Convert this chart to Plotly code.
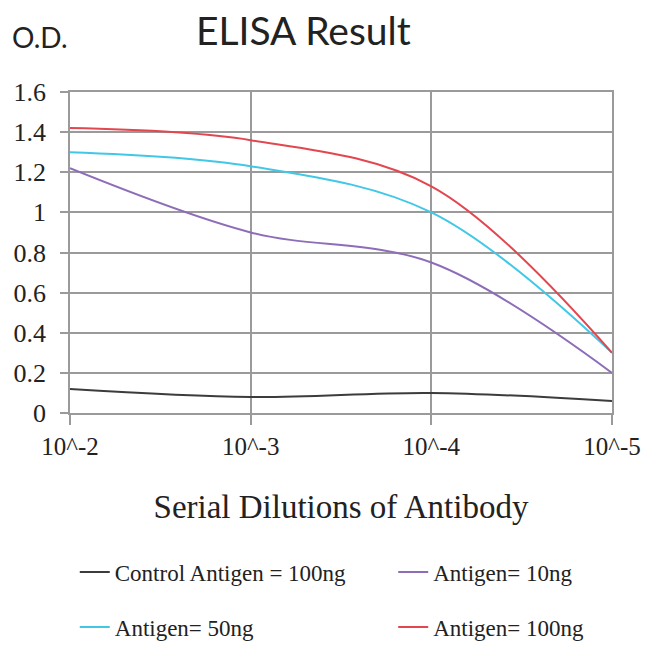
import plotly.graph_objects as go

# Diluições seriais do anticorpo
dilutions = ["10^-2", "10^-3", "10^-4", "10^-5"]

control_100ng = [0.12, 0.08, 0.10, 0.06]
antigen_10ng = [1.22, 0.90, 0.75, 0.20]
antigen_50ng = [1.30, 1.23, 1.00, 0.30]
antigen_100ng = [1.42, 1.36, 1.13, 0.30]

# nome, valores, cor, legenda (uma legenda por célula da grade 2x2)
series = [
    ("Control Antigen = 100ng", control_100ng, "#3c3c3c", "legend"),
    ("Antigen= 10ng", antigen_10ng, "#8e6db8", "legend2"),
    ("Antigen= 50ng", antigen_50ng, "#40c8e6", "legend3"),
    ("Antigen= 100ng", antigen_100ng, "#e2474f", "legend4"),
]

xpos = list(range(len(dilutions)))

fig = go.Figure()
for name, vals, color, leg in series:
    fig.add_trace(go.Scatter(
        x=xpos, y=vals, name=name, mode="lines", legend=leg,
        line=dict(color=color, width=2, shape="spline", smoothing=1.0),
    ))

serif = "Liberation Serif"
grid = "#9a9a9a"

# a página tem 8px de margem no body: figura de 642px
W = H = 642

legend_common = dict(
    orientation="v",
    xref="container", yref="container",
    xanchor="left", yanchor="middle",
    font=dict(family=serif, size=23, color="#222"),
    bgcolor="rgba(0,0,0,0)",
)
col1, col2 = 0.104, 0.60
row1, row2 = 1 - 564 / H, 1 - 619 / H

fig.update_layout(
    width=W, height=H,
    margin=dict(l=62, r=38, t=84, b=237, autoexpand=False),
    paper_bgcolor="white",
    plot_bgcolor="white",
    showlegend=True,
    legend=dict(legend_common, x=col1, y=row1),
    legend2=dict(legend_common, x=col2, y=row1),
    legend3=dict(legend_common, x=col1, y=row2),
    legend4=dict(legend_common, x=col2, y=row2),
    xaxis=dict(
        range=[0, 3],
        tickmode="array", tickvals=xpos, ticktext=dilutions,
        showgrid=True, gridcolor=grid, gridwidth=1.5,
        showline=True, mirror=True, linecolor=grid, linewidth=1.5,
        zeroline=False,
        ticks="outside", ticklen=10, tickcolor=grid, tickwidth=1.5,
        tickfont=dict(family=serif, size=25, color="#222"),
        title=dict(text="Serial Dilutions of Antibody",
                   font=dict(family=serif, size=33, color="#222"), standoff=36),
    ),
    yaxis=dict(
        range=[0, 1.6],
        tickvals=[0, 0.2, 0.4, 0.6, 0.8, 1.0, 1.2, 1.4, 1.6],
        ticktext=["0", "0.2", "0.4", "0.6", "0.8", "1", "1.2", "1.4", "1.6"],
        showgrid=True, gridcolor=grid, gridwidth=1.5,
        showline=True, mirror=True, linecolor=grid, linewidth=1.5,
        zeroline=False,
        ticks="outside", ticklen=8, tickcolor=grid, tickwidth=1.5,
        ticklabelstandoff=9,
        tickfont=dict(family=serif, size=26, color="#222"),
    ),
    annotations=[
        dict(text="ELISA Result", xref="paper", yref="paper",
             x=0.43, y=1.0, yshift=62, xanchor="center", yanchor="middle",
             showarrow=False, font=dict(family="Lato", size=39, color="#222")),
        dict(text="O.D.", xref="paper", yref="paper",
             x=-0.11, y=1.0, yshift=55, xanchor="left", yanchor="middle",
             showarrow=False, font=dict(family="Lato", size=28, color="#222")),
    ],
)

fig.write_html("out.html")
